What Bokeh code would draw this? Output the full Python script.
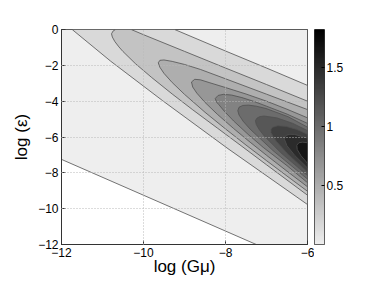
import numpy as np
from bokeh.plotting import figure
from bokeh.models import Range1d, FixedTicker, LinearColorMapper, ColumnDataSource
from bokeh.layouts import row
from bokeh.embed import file_html
from bokeh.resources import INLINE

# ---------------- values ----------------
x_ticks = [-12, -10, -8, -6]
y_ticks = [-12, -10, -8, -6, -4, -2, 0]
cb_ticks = [0.5, 1.0, 1.5]
z_max = 1.82
# contour levels (10 evenly spaced levels between 0 and the maximum)
z_levels = [0.0, 0.165, 0.331, 0.496, 0.662, 0.827, 0.993, 1.158, 1.324, 1.489, 1.655]
# lower edge of the data: log(eps) + log(G mu) = cutoff
cutoff = -19.25

# boundary of the region above each level (log G mu, log eps)
c1_x = [-6.00, -7.00, -8.00, -9.24, -11.74, -10.80, -9.53, -7.94, -6.00]
c1_y = [-3.12, -2.15, -1.20, 0.00, 0.00, -1.77, -3.98, -6.65, -9.77]
c2_x = [-6.00, -7.00, -8.00, -9.00, -10.00, -10.30, -10.68, -10.74, -10.78, -10.76, -10.70,
        -10.60, -10.50, -10.20, -9.80, -9.30, -8.80, -8.20, -7.60, -7.00, -6.50, -6.00]
c2_y = [-4.00, -3.07, -2.15, -1.22, -0.29, 0.00, 0.00, -0.08, -0.24, -0.42, -0.67,
        -0.97, -1.23, -1.90, -2.68, -3.60, -4.48, -5.50, -6.52, -7.55, -8.40, -9.25]
c3_x = [-6.00, -7.00, -8.00, -8.61, -9.00, -9.30, -9.50, -9.60, -9.64, -9.60, -9.50, -9.30,
        -9.00, -8.50, -8.00, -7.50, -7.00, -6.50, -6.00]
c3_y = [-4.47, -3.61, -2.75, -2.23, -1.95, -1.78, -1.70, -1.72, -1.86, -2.11, -2.45, -2.96,
        -3.62, -4.62, -5.55, -6.45, -7.32, -8.18, -9.03]
c4_x = [-6.00, -6.50, -7.00, -7.50, -8.00, -8.40, -8.61, -8.75, -8.83, -8.80, -8.70, -8.50,
        -8.20, -7.80, -7.40, -7.00, -6.50, -6.00]
c4_y = [-4.93, -4.45, -4.00, -3.60, -3.24, -2.96, -2.81, -2.78, -2.93, -3.21, -3.55, -4.07,
        -4.73, -5.53, -6.29, -7.02, -7.91, -8.78]
c5_x = [-6.00, -6.50, -7.00, -7.30, -7.60, -7.85, -8.05, -8.18, -8.25, -8.22, -8.16, -8.03,
        -7.80, -7.45, -7.08, -6.50, -6.00]
c5_y = [-5.24, -4.72, -4.28, -4.02, -3.80, -3.66, -3.62, -3.68, -3.85, -4.05, -4.20, -4.56,
        -5.11, -5.85, -6.58, -7.60, -8.55]
c6_x = [-6.00, -6.47, -7.01, -7.25, -7.44, -7.58, -7.67, -7.70, -7.67, -7.57, -7.40, -6.84, -6.00]
c6_y = [-5.45, -4.87, -4.41, -4.28, -4.22, -4.24, -4.34, -4.53, -4.77, -5.12, -5.56, -6.76, -8.35]
c7_x = [-6.00, -6.37, -6.75, -7.06, -7.16, -7.23, -7.27, -7.25, -7.18, -7.06, -6.65, -6.00]
c7_y = [-5.64, -5.23, -4.93, -4.83, -4.86, -4.94, -5.09, -5.30, -5.58, -5.93, -6.88, -8.15]
c8_x = [-6.00, -6.26, -6.52, -6.72, -6.85, -6.89, -6.89, -6.84, -6.76, -6.47, -6.00]
c8_y = [-5.85, -5.58, -5.41, -5.37, -5.45, -5.58, -5.75, -5.97, -6.24, -6.97, -7.95]
c9_x = [-6.00, -6.31, -6.43, -6.52, -6.55, -6.56, -6.50, -6.31, -6.00]
c9_y = [-6.06, -5.86, -5.85, -5.91, -6.00, -6.14, -6.49, -7.03, -7.73]
c10_x = [-6.00, -6.12, -6.21, -6.26, -6.25, -6.16, -6.00]
c10_y = [-6.32, -6.29, -6.32, -6.46, -6.70, -7.04, -7.47]

x_lo, x_hi = x_ticks[0], x_ticks[-1]
y_lo, y_hi = y_ticks[0], y_ticks[-1]

# region where the quantity is defined (above the cut-off line)
c0_x = [x_lo, x_hi, x_hi, cutoff - y_lo, x_lo]
c0_y = [y_hi, y_hi, y_lo, y_lo, cutoff - x_lo]

FONT = "Liberation Sans"

grays = ["#%02x%02x%02x" % (v, v, v) for v in np.linspace(238, 0, 256).round().astype(int)]
mapper = LinearColorMapper(palette=grays, low=0, high=z_max)

src = ColumnDataSource(dict(
    xs=[c0_x, c1_x, c2_x, c3_x, c4_x, c5_x, c6_x, c7_x, c8_x, c9_x, c10_x],
    ys=[c0_y, c1_y, c2_y, c3_y, c4_y, c5_y, c6_y, c7_y, c8_y, c9_y, c10_y],
    level=z_levels,
))

p = figure(frame_width=246, frame_height=215, min_border_left=61, min_border_right=7,
           min_border_top=29, min_border_bottom=37,
           x_range=Range1d(x_lo, x_hi), y_range=Range1d(y_lo, y_hi),
           toolbar_location=None, output_backend="svg")
p.patches("xs", "ys", source=src, fill_color={"field": "level", "transform": mapper},
          line_color="#505050", line_width=0.8)

for ax in (p.xaxis, p.yaxis):
    ax.major_tick_in = 4
    ax.major_tick_out = 0
    ax.minor_tick_line_color = None
    ax.axis_line_color = "#333333"
    ax.major_tick_line_color = "#333333"
    ax.major_label_text_font = FONT
    ax.major_label_text_font_size = "12px"
    ax.major_label_text_color = "black"
    ax.axis_label_text_font = FONT
    ax.axis_label_text_font_size = "17px"
    ax.axis_label_text_font_style = "normal"
    ax.axis_label_text_color = "black"

p.xaxis.ticker = FixedTicker(ticks=x_ticks)
p.yaxis.ticker = FixedTicker(ticks=y_ticks)
p.xaxis.major_label_overrides = {t: ("\u2212%d" % -t if t < 0 else "%d" % t) for t in x_ticks}
p.yaxis.major_label_overrides = {t: ("\u2212%d" % -t if t < 0 else "%d" % t) for t in y_ticks}
p.xaxis.axis_label = "log (G\u03bc)"
p.yaxis.axis_label = "log (\u03b5)"
p.xaxis.major_label_standoff = 3
p.yaxis.major_label_standoff = 3
p.xaxis.axis_label_standoff = -3
p.yaxis.axis_label_standoff = 4

p.grid.grid_line_color = "#b8b8b8"
p.grid.grid_line_dash = "1 2"
p.grid.level = "overlay"
p.outline_line_color = "#333333"
p.outline_line_width = 1

# colour bar
cb = figure(frame_width=10, frame_height=215, min_border_left=0, min_border_right=42,
            min_border_top=29, min_border_bottom=37,
            x_range=Range1d(0, 1), y_range=Range1d(0, z_max),
            toolbar_location=None, output_backend="svg",
            x_axis_location=None, y_axis_location="right")
cb.image(image=[np.linspace(0, z_max, 256).reshape(-1, 1)], x=0, y=0, dw=1, dh=z_max,
         color_mapper=mapper)
cb.grid.visible = False
cb.yaxis.ticker = FixedTicker(ticks=cb_ticks)
cb.yaxis.major_label_overrides = {0.5: "0.5", 1.0: "1", 1.5: "1.5"}
cb.yaxis.major_tick_in = 3
cb.yaxis.major_tick_out = 0
cb.yaxis.minor_tick_line_color = None
cb.yaxis.axis_line_color = None
cb.yaxis.major_label_text_font = FONT
cb.yaxis.major_label_text_font_size = "12px"
cb.yaxis.major_label_text_color = "black"
cb.yaxis.major_label_standoff = 2
cb.outline_line_color = "#333333"

layout = row(p, cb)
open("out.html", "w").write(file_html(layout, INLINE))
